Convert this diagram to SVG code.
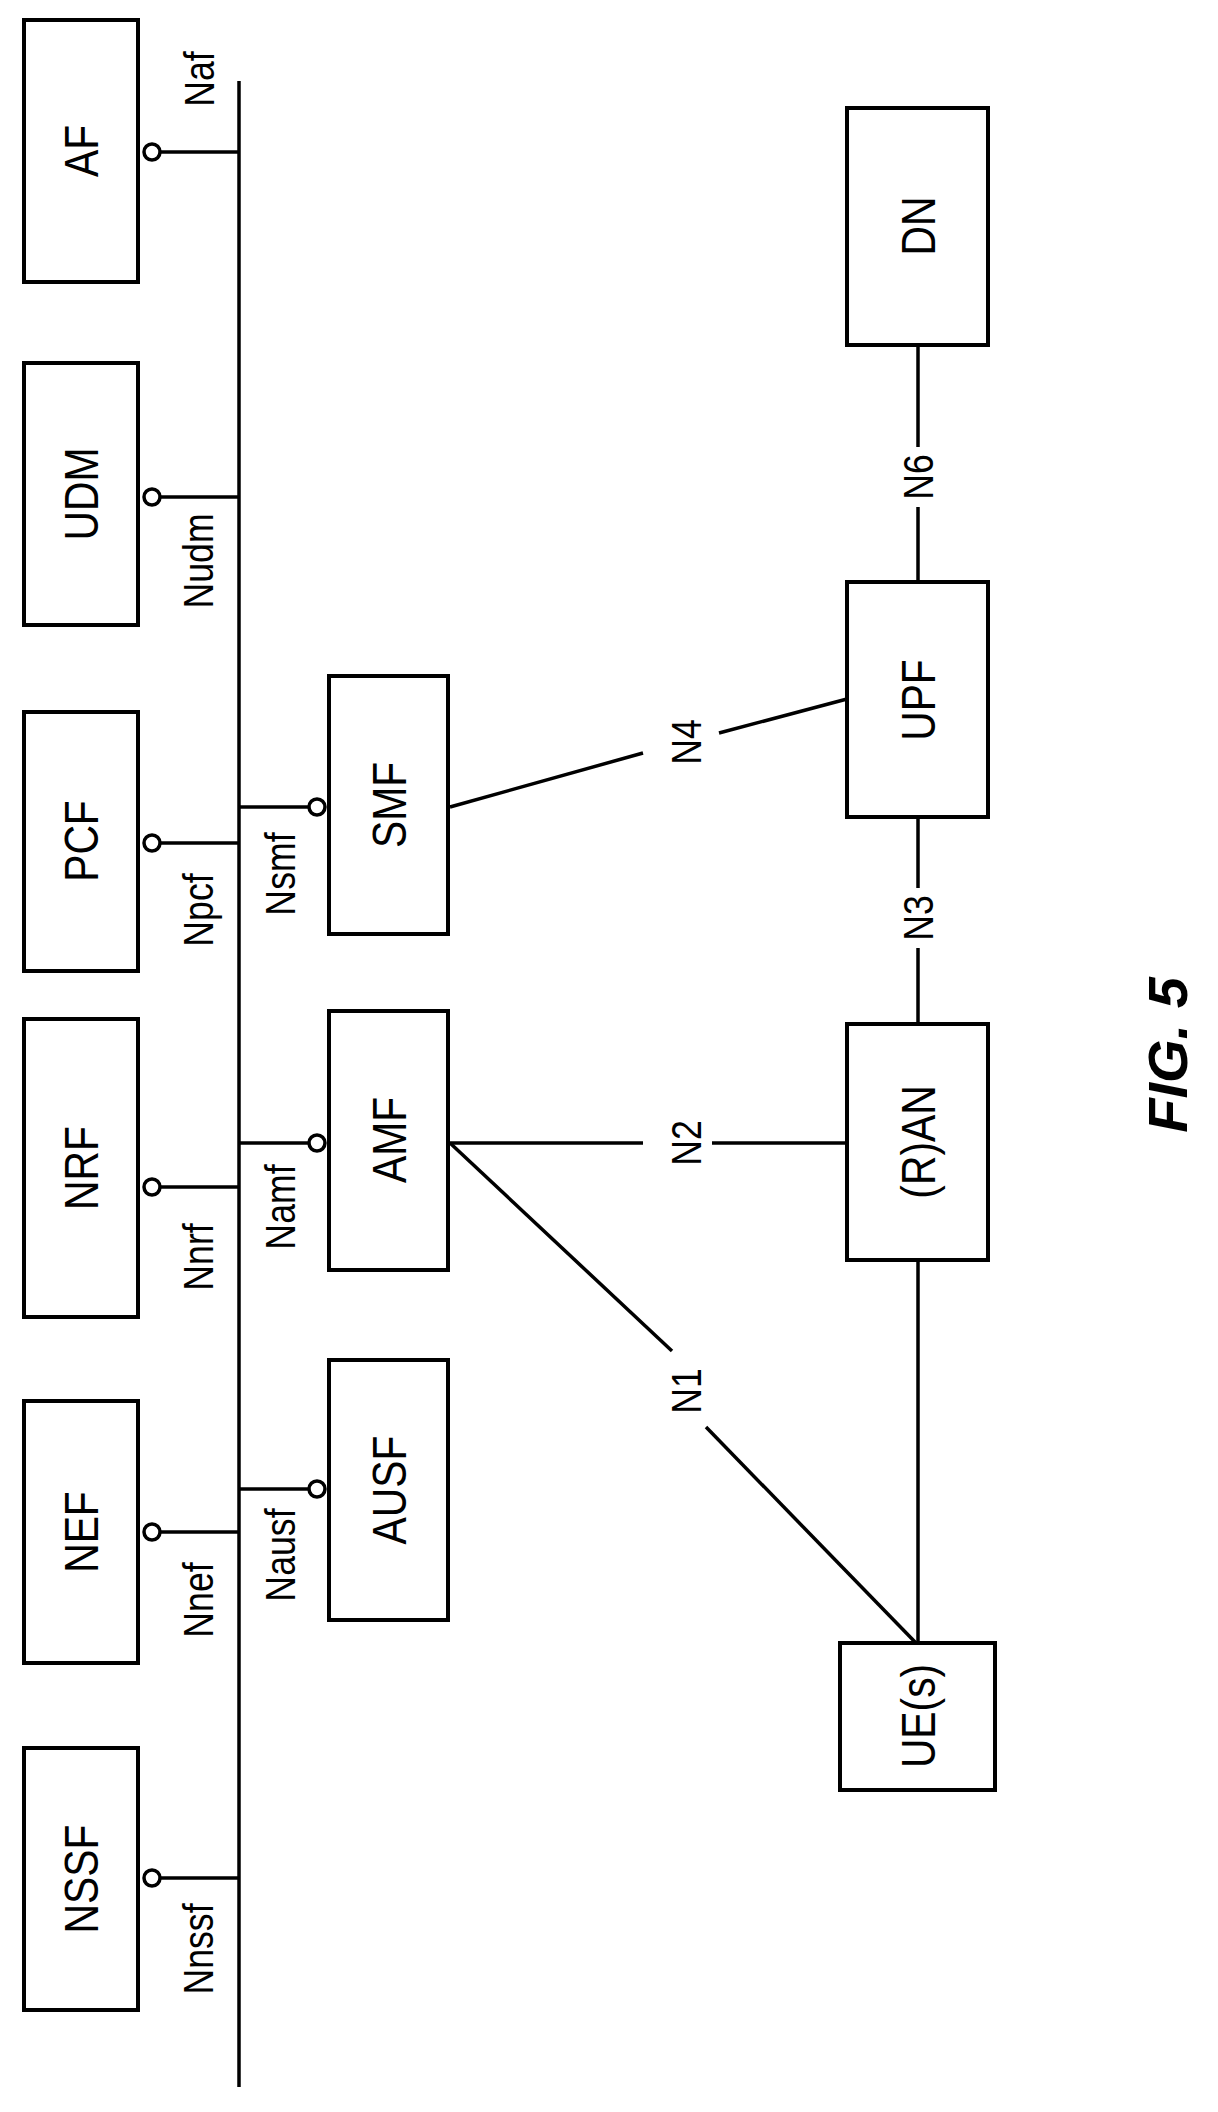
<svg xmlns="http://www.w3.org/2000/svg" width="1218" height="2112" viewBox="0 0 1218 2112">
<style>
.b{fill:#fff;stroke:#000;stroke-width:4}
.l{stroke:#000;stroke-width:3.5;fill:none}
.c{fill:#fff;stroke:#000;stroke-width:3.5}
.t{font-family:"Liberation Sans",Arial,sans-serif;font-size:48px;text-anchor:middle;dominant-baseline:central}
.s{font-family:"Liberation Sans",Arial,sans-serif;font-size:42px;text-anchor:middle;dominant-baseline:central}
</style>
<rect width="1218" height="2112" fill="#fff"/>
<g id="connectors">
<line class="l" x1="239" y1="81" x2="239" y2="2087"/>
<line class="l" x1="160" y1="152" x2="239" y2="152"/>
<line class="l" x1="160" y1="497" x2="239" y2="497"/>
<line class="l" x1="160" y1="843" x2="239" y2="843"/>
<line class="l" x1="160" y1="1187" x2="239" y2="1187"/>
<line class="l" x1="160" y1="1532" x2="239" y2="1532"/>
<line class="l" x1="160" y1="1878" x2="239" y2="1878"/>
<line class="l" x1="239" y1="807" x2="309" y2="807"/>
<line class="l" x1="239" y1="1143" x2="309" y2="1143"/>
<line class="l" x1="239" y1="1489" x2="309" y2="1489"/>
<line class="l" x1="450" y1="807" x2="643" y2="753"/>
<line class="l" x1="719" y1="733" x2="847" y2="699"/>
<line class="l" x1="450" y1="1143" x2="643" y2="1143"/>
<line class="l" x1="712" y1="1143" x2="847" y2="1143"/>
<line class="l" x1="450" y1="1143" x2="672" y2="1351"/>
<line class="l" x1="706" y1="1427" x2="916" y2="1643"/>
<line class="l" x1="918" y1="345" x2="918" y2="447"/>
<line class="l" x1="918" y1="507" x2="918" y2="582"/>
<line class="l" x1="918" y1="817" x2="918" y2="888"/>
<line class="l" x1="918" y1="948" x2="918" y2="1024"/>
<line class="l" x1="918" y1="1260" x2="918" y2="1643"/>
<circle class="c" cx="152" cy="152" r="8"/>
<circle class="c" cx="152" cy="497" r="8"/>
<circle class="c" cx="152" cy="843" r="8"/>
<circle class="c" cx="152" cy="1187" r="8"/>
<circle class="c" cx="152" cy="1532" r="8"/>
<circle class="c" cx="152" cy="1878" r="8"/>
<circle class="c" cx="317" cy="807" r="8"/>
<circle class="c" cx="317" cy="1143" r="8"/>
<circle class="c" cx="317" cy="1489" r="8"/>
<text class="s" transform="translate(199,79) rotate(-90) scale(0.85,1)">Naf</text>
<text class="s" transform="translate(198,561) rotate(-90) scale(0.85,1)">Nudm</text>
<text class="s" transform="translate(198,910) rotate(-90) scale(0.85,1)">Npcf</text>
<text class="s" transform="translate(198,1257) rotate(-90) scale(0.85,1)">Nnrf</text>
<text class="s" transform="translate(198,1600) rotate(-90) scale(0.85,1)">Nnef</text>
<text class="s" transform="translate(198,1949) rotate(-90) scale(0.85,1)">Nnssf</text>
<text class="s" transform="translate(280,874) rotate(-90) scale(0.85,1)">Nsmf</text>
<text class="s" transform="translate(280,1207) rotate(-90) scale(0.85,1)">Namf</text>
<text class="s" transform="translate(280,1555) rotate(-90) scale(0.85,1)">Nausf</text>
<text class="s" transform="translate(686,742) rotate(-90) scale(0.85,1)">N4</text>
<text class="s" transform="translate(686,1143) rotate(-90) scale(0.85,1)">N2</text>
<text class="s" transform="translate(686,1391) rotate(-90) scale(0.85,1)">N1</text>
<text class="s" transform="translate(918,477) rotate(-90) scale(0.85,1)">N6</text>
<text class="s" transform="translate(918,918) rotate(-90) scale(0.85,1)">N3</text>
</g>
<g id="AF"><rect class="b" x="24" y="20" width="114" height="262"/><text class="t" transform="translate(81,151) rotate(-90) scale(0.85,1)">AF</text></g>
<g id="UDM"><rect class="b" x="24" y="363" width="114" height="262"/><text class="t" transform="translate(81,494) rotate(-90) scale(0.85,1)">UDM</text></g>
<g id="PCF"><rect class="b" x="24" y="712" width="114" height="259"/><text class="t" transform="translate(81,841) rotate(-90) scale(0.85,1)">PCF</text></g>
<g id="NRF"><rect class="b" x="24" y="1019" width="114" height="298"/><text class="t" transform="translate(81,1168) rotate(-90) scale(0.85,1)">NRF</text></g>
<g id="NEF"><rect class="b" x="24" y="1401" width="114" height="262"/><text class="t" transform="translate(81,1532) rotate(-90) scale(0.85,1)">NEF</text></g>
<g id="NSSF"><rect class="b" x="24" y="1748" width="114" height="262"/><text class="t" transform="translate(81,1879) rotate(-90) scale(0.85,1)">NSSF</text></g>
<g id="SMF"><rect class="b" x="329" y="676" width="119" height="258"/><text class="t" transform="translate(389,805) rotate(-90) scale(0.85,1)">SMF</text></g>
<g id="AMF"><rect class="b" x="329" y="1011" width="119" height="259"/><text class="t" transform="translate(389,1140) rotate(-90) scale(0.85,1)">AMF</text></g>
<g id="AUSF"><rect class="b" x="329" y="1360" width="119" height="260"/><text class="t" transform="translate(389,1490) rotate(-90) scale(0.85,1)">AUSF</text></g>
<g id="DN"><rect class="b" x="847" y="108" width="141" height="237"/><text class="t" transform="translate(918,226) rotate(-90) scale(0.85,1)">DN</text></g>
<g id="UPF"><rect class="b" x="847" y="582" width="141" height="235"/><text class="t" transform="translate(918,700) rotate(-90) scale(0.85,1)">UPF</text></g>
<g id="RAN"><rect class="b" x="847" y="1024" width="141" height="236"/><text class="t" transform="translate(918,1142) rotate(-90) scale(0.85,1)">(R)AN</text></g>
<g id="UE"><rect class="b" x="840" y="1643" width="155" height="147"/><text class="t" transform="translate(918,1716) rotate(-90) scale(0.85,1)">UE(s)</text></g>
<text transform="translate(1167,1055) rotate(-90)" style="font-family:'Liberation Sans',Arial,sans-serif;font-size:56px;font-weight:bold;font-style:italic;text-anchor:middle;dominant-baseline:central">FIG. 5</text>
</svg>
